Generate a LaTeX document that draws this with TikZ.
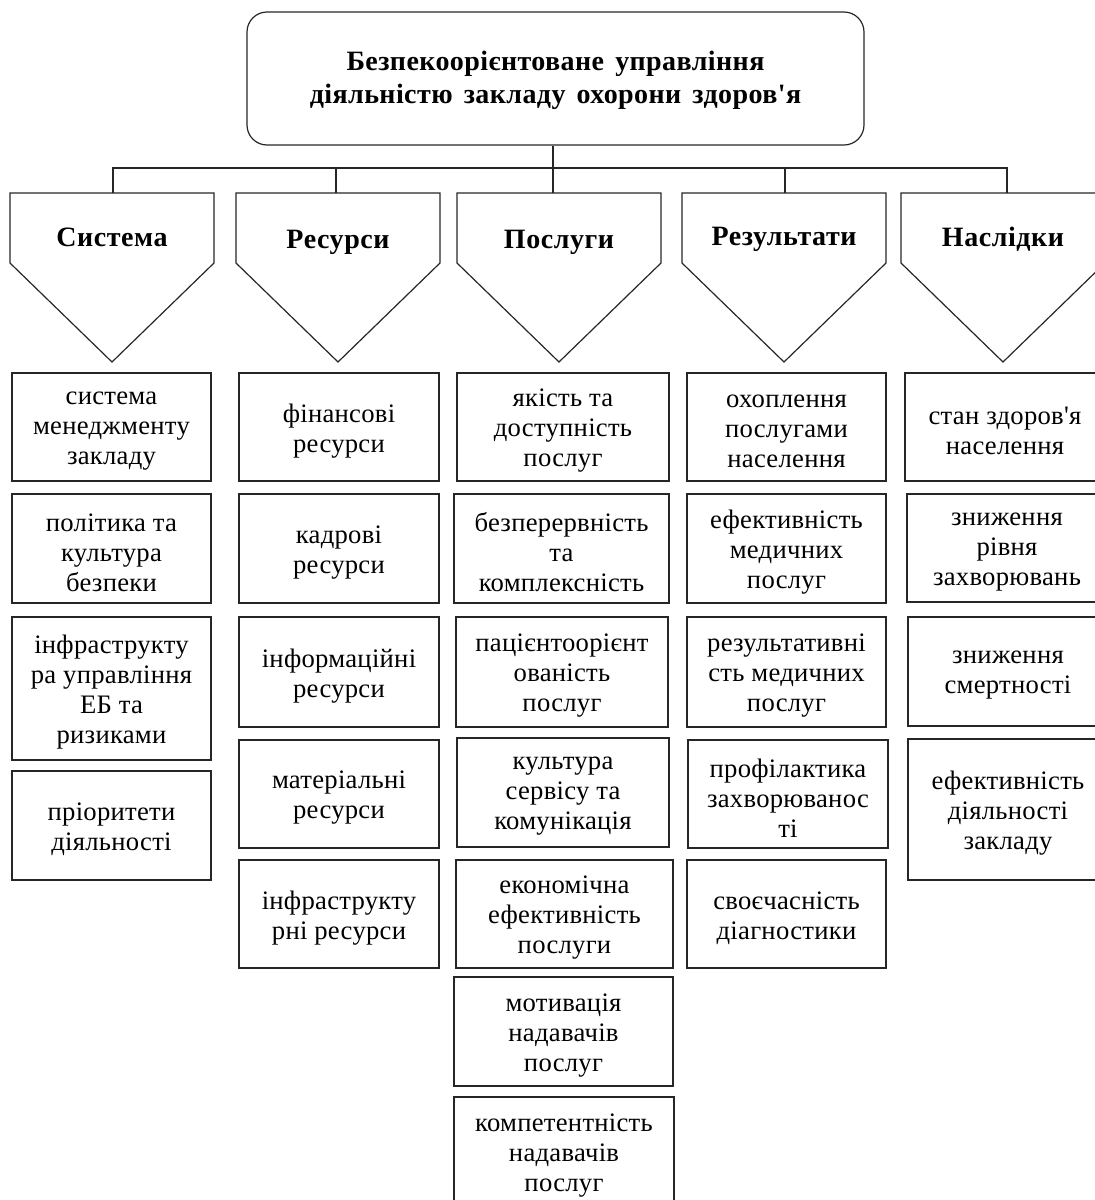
\documentclass[tikz,border=0pt]{standalone}
\usepackage{fontspec}
\setmainfont{Liberation Serif}[Ligatures=TeXOff]
\newfontfamily\titlefont{Liberation Serif}[Ligatures=TeXOff,LetterSpace=1.5,WordSpace=1.5]
\begin{document}
\begin{tikzpicture}[x=0.75pt,y=-0.75pt]
\tikzset{
  ln/.style={line width=0.9pt, draw=black!85},
  cbox/.style={ln, rectangle, inner sep=0pt, outer sep=0pt},
  celltxt/.style={align=center, inner sep=0pt,
    font=\addfontfeatures{LetterSpace=1}\fontsize{20}{22.5}\selectfont},
  headtxt/.style={anchor=base, inner sep=0pt,
    font=\addfontfeatures{LetterSpace=2}\bfseries\fontsize{21}{24}\selectfont},
  titlebox/.style={ln, rectangle, rounded corners=15pt},
  titletxt/.style={align=center, inner sep=0pt,
    font=\titlefont\bfseries\fontsize{21}{25}\selectfont},
}
% rectangle node given by its corners in pixel units, with its text
\newcommand\cellbox[6]{%
  \node[cbox, minimum width={(#4-#2)*0.75pt}, minimum height={(#5-#3)*0.75pt}]
    (#1) at ({(#2+#4)/2},{(#3+#5)/2}) {};
  \node[celltxt] (#1t) at ([yshift=-3pt]#1.center) {#6};}
% pentagon header: name, left x, right x, baseline y, label
\newcommand\headshape[5]{%
  \draw[ln] (#2,193) -- (#3,193) -- (#3,263) -- ({(#2+#3)/2},362) -- (#2,263) -- cycle;
  \node[headtxt] (#1) at ({(#2+#3)/2},#4) {#5};}

\path[use as bounding box] (0,0) rectangle (1095,1200);
\clip (0,0) rectangle (1095,1200);

% root
\node[titlebox, minimum width=462.75pt, minimum height=99.75pt] (root) at (555.5,78.5) {};
\node[titletxt] (roott) at ([yshift=-1.2pt]root.center)
  {Безпекоорієнтоване управління\\діяльністю закладу охорони здоров'я};

% category headers
\headshape{h1}{10}{214}{246}{Система}
\headshape{h2}{236}{440}{248}{Ресурси}
\headshape{h3}{457}{661}{248}{Послуги}
\headshape{h4}{682}{886}{245}{Результати}
\headshape{h5}{901}{1105}{246}{Наслідки}

\coordinate (t1) at (113,193);
\coordinate (t2) at (336,193);
\coordinate (t3) at (553,193);
\coordinate (t4) at (785,193);
\coordinate (t5) at (1007,193);
\coordinate (busL) at (113,168);
\coordinate (busR) at (1007,168);

\draw[ln] (root.south -| t3) -- (t3);
\draw[ln] (t1) -- (busL) -- (busR) -- (t5);
\draw[ln] (t2) -- (t2 |- busL);
\draw[ln] (t4) -- (t4 |- busL);

% column 1
\cellbox{a1}{12}{373}{211}{481}{система\\менеджменту\\закладу}
\cellbox{a2}{12}{494}{211}{603}{політика та\\культура\\безпеки}
\cellbox{a3}{12}{617}{211}{760}{інфраструкту\\ра управління\\ЕБ та\\ризиками}
\cellbox{a4}{12}{771}{211}{880}{пріоритети\\діяльності}

% column 2
\cellbox{b1}{239}{373}{439}{481}{фінансові\\ресурси}
\cellbox{b2}{239}{494}{439}{603}{кадрові\\ресурси}
\cellbox{b3}{239}{617}{439}{727}{інформаційні\\ресурси}
\cellbox{b4}{239}{740}{439}{848}{матеріальні\\ресурси}
\cellbox{b5}{239}{860}{439}{968}{інфраструкту\\рні ресурси}

% column 3
\cellbox{c1}{457}{373}{669}{481}{якість та\\доступність\\послуг}
\cellbox{c2}{454}{494}{669}{603}{безперервність\\та\\комплексність}
\cellbox{c3}{456}{617}{668}{727}{пацієнтоорієнт\\ованість\\послуг}
\cellbox{c4}{457}{738}{669}{847}{культура\\сервісу та\\комунікація}
\cellbox{c5}{456}{860}{673}{968}{економічна\\ефективність\\послуги}
\cellbox{c6}{454}{977}{673}{1086}{мотивація\\надавачів\\послуг}
\cellbox{c7}{454}{1097}{674}{1207}{компетентність\\надавачів\\послуг}

% column 4
\cellbox{d1}{687}{373}{886}{481}{охоплення\\послугами\\населення}
\cellbox{d2}{687}{494}{886}{603}{ефективність\\медичних\\послуг}
\cellbox{d3}{687}{617}{886}{727}{результативні\\сть медичних\\послуг}
\cellbox{d4}{688}{740}{888}{848}{профілактика\\захворюванос\\ті}
\cellbox{d5}{687}{860}{886}{968}{своєчасність\\діагностики}

% column 5
\cellbox{e1}{905}{373}{1105}{481}{стан здоров'я\\населення}
\cellbox{e2}{907}{494}{1107}{602}{зниження\\рівня\\захворювань}
\cellbox{e3}{908}{617}{1108}{726}{зниження\\смертності}
\cellbox{e4}{908}{739}{1108}{880}{ефективність\\діяльності\\закладу}
\end{tikzpicture}
\end{document}
